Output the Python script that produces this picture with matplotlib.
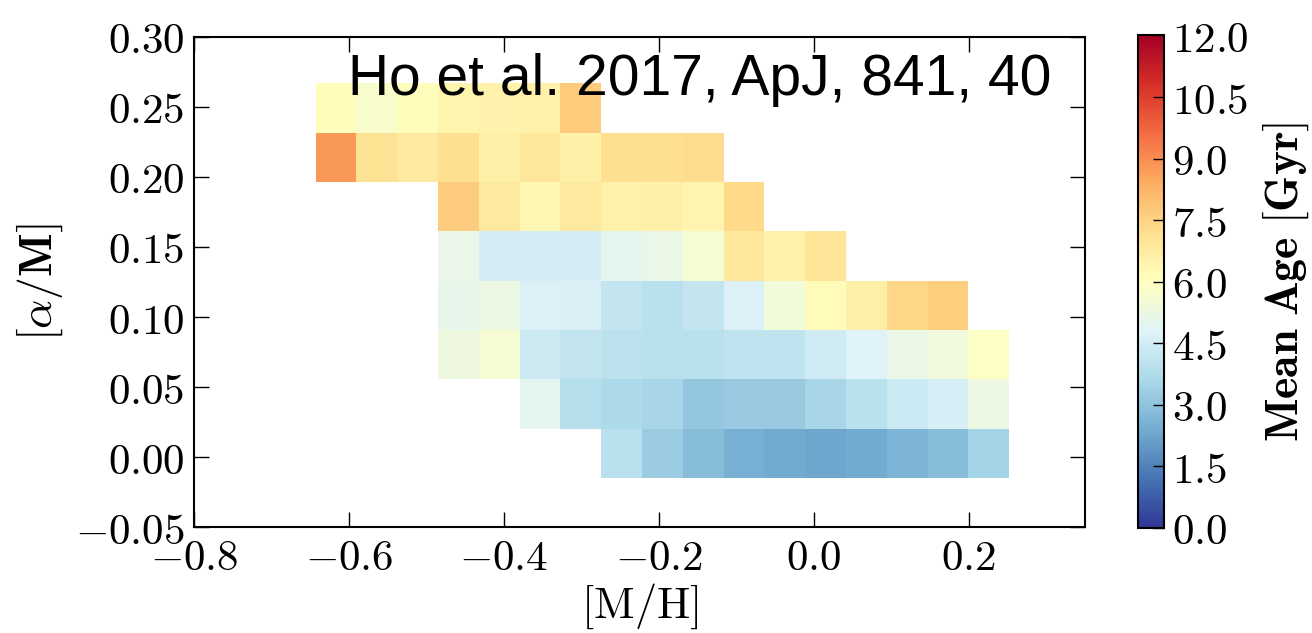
import numpy as np
import matplotlib
matplotlib.use('Agg')
import matplotlib.pyplot as plt
from matplotlib.ticker import FuncFormatter

plt.rcParams['mathtext.fontset'] = 'cm'

nan = np.nan

# bin edges of the 2D histogram ([M/H] columns, [alpha/M] rows)
mh_edges = np.linspace(-0.643, 0.252, 18)
am_edges = np.linspace(-0.0147, 0.2667, 9)

# mean age per bin (Gyr), one list per [alpha/M] row, bottom to top
age_row0 = [nan] * 7 + [3.9, 3.28, 2.84, 2.53, 2.36, 2.26, 2.36, 2.6, 2.85, 3.45]
age_row1 = [nan] * 5 + [4.98, 3.87, 3.64, 3.55, 3.13, 3.2, 3.22, 3.56, 3.92, 4.35, 4.56, 5.27]
age_row2 = [nan] * 3 + [5.3, 5.6, 4.4, 4.1, 3.97, 3.9, 3.9, 4.05, 4.05, 4.45, 4.8, 5.17, 5.43, 5.9]
age_row3 = [nan] * 3 + [5.1, 5.25, 4.7, 4.65, 4.14, 3.9, 4.14, 4.7, 5.45, 6.15, 6.65, 7.45, 7.6] + [nan]
age_row4 = [nan] * 3 + [5.15, 4.5, 4.5, 4.5, 5.0, 5.2, 5.6, 6.9, 6.55, 7.0] + [nan] * 4
age_row5 = [nan] * 3 + [7.65, 6.8, 6.35, 6.8, 6.55, 6.6, 6.4, 7.35] + [nan] * 6
age_row6 = [8.8, 7.1, 6.8, 7.2, 6.6, 6.9, 6.6, 7.2, 7.2, 7.25] + [nan] * 7
age_row7 = [6.06, 5.76, 6.06, 6.4, 6.5, 6.55, 7.7] + [nan] * 10

xticks = [-0.8, -0.6, -0.4, -0.2, 0.0, 0.2]
yticks = [-0.05, 0.0, 0.05, 0.10, 0.15, 0.20, 0.25, 0.30]
cticks = [0.0, 1.5, 3.0, 4.5, 6.0, 7.5, 9.0, 10.5, 12.0]


def main():
    ages = np.ma.masked_invalid(np.array([age_row0, age_row1, age_row2, age_row3,
                                          age_row4, age_row5, age_row6, age_row7]))

    fig = plt.figure(figsize=(13.12, 6.33), dpi=100)
    ax = fig.add_axes([0.1479, 0.167, 0.6791, 0.775])
    cax = fig.add_axes([0.8674, 0.166, 0.0198, 0.778])

    mesh = ax.pcolormesh(mh_edges, am_edges, ages, cmap='RdYlBu_r', vmin=0, vmax=12)

    ax.set_xlim(-0.8, 0.35)
    ax.set_ylim(-0.05, 0.30)
    ax.set_xticks(xticks)
    ax.set_yticks(yticks)
    ax.xaxis.set_major_formatter(FuncFormatter(lambda v, p: r'$%.1f$' % v))
    ax.yaxis.set_major_formatter(FuncFormatter(lambda v, p: r'$%.2f$' % v))
    ax.tick_params(direction='in', length=11, width=1, top=True, right=True,
                   labelsize=31, pad=7)
    for sp in ax.spines.values():
        sp.set_linewidth(1.5)

    ax.set_xlabel(r'$\mathrm{[M/H]}$', fontsize=32, labelpad=2)
    ax.set_ylabel(r'$\mathbf{[}\alpha\mathbf{/M]}$', fontsize=33, labelpad=7)

    # citation written across the top of the plot
    ax.text(0.173, 0.881, 'Ho et al. 2017, ApJ, 841, 40', transform=ax.transAxes,
            fontsize=41, family='Liberation Sans', va='baseline', ha='left', color='black')

    cbar = fig.colorbar(mesh, cax=cax, ticks=cticks)
    cbar.ax.yaxis.set_major_formatter(FuncFormatter(lambda v, p: r'$%.1f$' % v))
    cbar.ax.tick_params(direction='in', length=8, width=1, labelsize=31, pad=6)
    cbar.outline.set_linewidth(1.5)
    cbar.set_label(r'$\mathbf{Mean\ Age\ [Gyr]}$', fontsize=33, labelpad=8)

    fig.savefig('out.png', dpi=100)
    plt.close(fig)


if __name__ == "__main__":
    main()
